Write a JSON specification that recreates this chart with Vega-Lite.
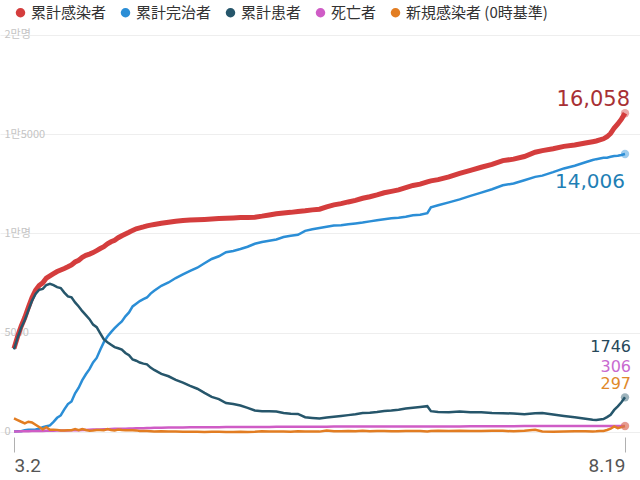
{
  "$schema": "https://vega.github.io/schema/vega-lite/v6.json",
  "width": 640,
  "height": 437,
  "padding": {"left": 0, "top": 0, "right": 0, "bottom": 43},
  "autosize": {"type": "none"},
  "background": "white",
  "config": {"view": {"stroke": null}},
  "data": {"values": [
    {"date":"2020-03-02","c":4212,"r":30,"i":4160,"x":22,"n":686},
    {"date":"2020-03-03","c":4812,"r":34,"i":4750,"x":28,"n":600},
    {"date":"2020-03-04","c":5328,"r":41,"i":5255,"x":32,"n":516},
    {"date":"2020-03-05","c":5766,"r":88,"i":5643,"x":35,"n":438},
    {"date":"2020-03-06","c":6284,"r":108,"i":6134,"x":42,"n":518},
    {"date":"2020-03-07","c":6767,"r":118,"i":6605,"x":44,"n":483},
    {"date":"2020-03-08","c":7134,"r":130,"i":6954,"x":50,"n":367},
    {"date":"2020-03-09","c":7382,"r":166,"i":7165,"x":51,"n":248},
    {"date":"2020-03-10","c":7513,"r":247,"i":7212,"x":54,"n":131},
    {"date":"2020-03-11","c":7755,"r":288,"i":7407,"x":60,"n":242},
    {"date":"2020-03-12","c":7869,"r":333,"i":7470,"x":66,"n":114},
    {"date":"2020-03-13","c":7979,"r":510,"i":7402,"x":67,"n":110},
    {"date":"2020-03-14","c":8086,"r":714,"i":7300,"x":72,"n":107},
    {"date":"2020-03-15","c":8162,"r":834,"i":7253,"x":75,"n":76},
    {"date":"2020-03-16","c":8236,"r":1137,"i":7024,"x":75,"n":74},
    {"date":"2020-03-17","c":8320,"r":1407,"i":6832,"x":81,"n":84},
    {"date":"2020-03-18","c":8413,"r":1540,"i":6789,"x":84,"n":93},
    {"date":"2020-03-19","c":8565,"r":1947,"i":6527,"x":91,"n":152},
    {"date":"2020-03-20","c":8652,"r":2233,"i":6325,"x":94,"n":87},
    {"date":"2020-03-21","c":8799,"r":2612,"i":6085,"x":102,"n":147},
    {"date":"2020-03-22","c":8897,"r":2909,"i":5884,"x":104,"n":98},
    {"date":"2020-03-23","c":8961,"r":3166,"i":5684,"x":111,"n":64},
    {"date":"2020-03-24","c":9037,"r":3507,"i":5410,"x":120,"n":76},
    {"date":"2020-03-25","c":9137,"r":3730,"i":5281,"x":126,"n":100},
    {"date":"2020-03-26","c":9241,"r":4144,"i":4966,"x":131,"n":104},
    {"date":"2020-03-27","c":9332,"r":4528,"i":4665,"x":139,"n":91},
    {"date":"2020-03-28","c":9478,"r":4811,"i":4523,"x":144,"n":146},
    {"date":"2020-03-29","c":9583,"r":5033,"i":4398,"x":152,"n":105},
    {"date":"2020-03-30","c":9661,"r":5228,"i":4275,"x":158,"n":78},
    {"date":"2020-03-31","c":9786,"r":5408,"i":4216,"x":162,"n":125},
    {"date":"2020-04-01","c":9887,"r":5567,"i":4155,"x":165,"n":101},
    {"date":"2020-04-02","c":9976,"r":5828,"i":3979,"x":169,"n":89},
    {"date":"2020-04-03","c":10062,"r":6021,"i":3867,"x":174,"n":86},
    {"date":"2020-04-04","c":10156,"r":6325,"i":3654,"x":177,"n":94},
    {"date":"2020-04-05","c":10237,"r":6463,"i":3591,"x":183,"n":81},
    {"date":"2020-04-06","c":10284,"r":6598,"i":3500,"x":186,"n":47},
    {"date":"2020-04-07","c":10331,"r":6694,"i":3445,"x":192,"n":47},
    {"date":"2020-04-08","c":10384,"r":6776,"i":3408,"x":200,"n":53},
    {"date":"2020-04-09","c":10423,"r":6973,"i":3246,"x":204,"n":39},
    {"date":"2020-04-10","c":10450,"r":7117,"i":3125,"x":208,"n":27},
    {"date":"2020-04-12","c":10512,"r":7368,"i":2930,"x":214,"n":32},
    {"date":"2020-04-14","c":10564,"r":7534,"i":2808,"x":222,"n":27},
    {"date":"2020-04-16","c":10613,"r":7757,"i":2627,"x":229,"n":22},
    {"date":"2020-04-18","c":10653,"r":7937,"i":2484,"x":232,"n":18},
    {"date":"2020-04-20","c":10674,"r":8114,"i":2324,"x":236,"n":13},
    {"date":"2020-04-22","c":10694,"r":8277,"i":2179,"x":238,"n":11},
    {"date":"2020-04-24","c":10708,"r":8501,"i":1967,"x":240,"n":6},
    {"date":"2020-04-26","c":10728,"r":8717,"i":1769,"x":242,"n":10},
    {"date":"2020-04-28","c":10752,"r":8854,"i":1654,"x":244,"n":14},
    {"date":"2020-04-30","c":10765,"r":9059,"i":1459,"x":247,"n":4},
    {"date":"2020-05-02","c":10780,"r":9123,"i":1407,"x":250,"n":6},
    {"date":"2020-05-04","c":10801,"r":9217,"i":1332,"x":252,"n":8},
    {"date":"2020-05-06","c":10806,"r":9333,"i":1218,"x":255,"n":2},
    {"date":"2020-05-08","c":10822,"r":9484,"i":1082,"x":256,"n":12},
    {"date":"2020-05-10","c":10874,"r":9568,"i":1050,"x":256,"n":34},
    {"date":"2020-05-12","c":10936,"r":9632,"i":1046,"x":258,"n":27},
    {"date":"2020-05-14","c":10991,"r":9695,"i":1036,"x":260,"n":29},
    {"date":"2020-05-16","c":11037,"r":9821,"i":954,"x":262,"n":19},
    {"date":"2020-05-18","c":11065,"r":9888,"i":914,"x":263,"n":15},
    {"date":"2020-05-20","c":11110,"r":9938,"i":909,"x":263,"n":32},
    {"date":"2020-05-22","c":11142,"r":10135,"i":743,"x":264,"n":20},
    {"date":"2020-05-24","c":11190,"r":10213,"i":711,"x":266,"n":25},
    {"date":"2020-05-26","c":11225,"r":10275,"i":681,"x":269,"n":19},
    {"date":"2020-05-28","c":11344,"r":10340,"i":734,"x":270,"n":79},
    {"date":"2020-05-30","c":11441,"r":10398,"i":771,"x":272,"n":39},
    {"date":"2020-06-01","c":11503,"r":10421,"i":810,"x":272,"n":35},
    {"date":"2020-06-03","c":11590,"r":10467,"i":850,"x":273,"n":49},
    {"date":"2020-06-05","c":11668,"r":10506,"i":889,"x":273,"n":39},
    {"date":"2020-06-07","c":11776,"r":10552,"i":951,"x":273,"n":57},
    {"date":"2020-06-09","c":11852,"r":10611,"i":965,"x":276,"n":38},
    {"date":"2020-06-11","c":11947,"r":10669,"i":1002,"x":276,"n":45},
    {"date":"2020-06-13","c":12051,"r":10718,"i":1056,"x":277,"n":49},
    {"date":"2020-06-15","c":12121,"r":10764,"i":1080,"x":277,"n":37},
    {"date":"2020-06-17","c":12198,"r":10797,"i":1122,"x":279,"n":43},
    {"date":"2020-06-19","c":12306,"r":10846,"i":1180,"x":280,"n":49},
    {"date":"2020-06-21","c":12421,"r":10914,"i":1227,"x":280,"n":48},
    {"date":"2020-06-23","c":12484,"r":10943,"i":1260,"x":281,"n":46},
    {"date":"2020-06-25","c":12602,"r":11020,"i":1300,"x":282,"n":28},
    {"date":"2020-06-26","c":12653,"r":11321,"i":1050,"x":282,"n":51},
    {"date":"2020-06-28","c":12715,"r":11423,"i":1010,"x":282,"n":62},
    {"date":"2020-07-01","c":12850,"r":11568,"i":1000,"x":282,"n":51},
    {"date":"2020-07-04","c":13030,"r":11717,"i":1030,"x":283,"n":63},
    {"date":"2020-07-07","c":13181,"r":11896,"i":1000,"x":285,"n":44},
    {"date":"2020-07-10","c":13338,"r":12060,"i":990,"x":288,"n":45},
    {"date":"2020-07-13","c":13479,"r":12230,"i":960,"x":289,"n":62},
    {"date":"2020-07-16","c":13672,"r":12429,"i":950,"x":293,"n":61},
    {"date":"2020-07-19","c":13745,"r":12520,"i":930,"x":295,"n":34},
    {"date":"2020-07-22","c":13879,"r":12683,"i":900,"x":296,"n":63},
    {"date":"2020-07-25","c":14092,"r":12854,"i":940,"x":298,"n":113},
    {"date":"2020-07-27","c":14175,"r":12916,"i":960,"x":299,"n":25},
    {"date":"2020-07-30","c":14269,"r":13089,"i":880,"x":300,"n":18},
    {"date":"2020-08-02","c":14389,"r":13278,"i":810,"x":301,"n":23},
    {"date":"2020-08-05","c":14456,"r":13414,"i":740,"x":302,"n":33},
    {"date":"2020-08-08","c":14562,"r":13589,"i":670,"x":303,"n":43},
    {"date":"2020-08-10","c":14626,"r":13702,"i":620,"x":304,"n":28},
    {"date":"2020-08-11","c":14660,"r":13745,"i":610,"x":305,"n":34},
    {"date":"2020-08-12","c":14714,"r":13779,"i":630,"x":305,"n":54},
    {"date":"2020-08-13","c":14770,"r":13815,"i":650,"x":305,"n":56},
    {"date":"2020-08-14","c":14873,"r":13817,"i":751,"x":305,"n":103},
    {"date":"2020-08-15","c":15039,"r":13863,"i":871,"x":305,"n":166},
    {"date":"2020-08-16","c":15318,"r":13901,"i":1112,"x":305,"n":279},
    {"date":"2020-08-17","c":15515,"r":13917,"i":1293,"x":305,"n":197},
    {"date":"2020-08-18","c":15761,"r":13954,"i":1501,"x":306,"n":246},
    {"date":"2020-08-19","c":16058,"r":14006,"i":1746,"x":306,"n":297}
  ]},
  "transform": [{"fold": ["c", "r", "i", "x", "n"], "as": ["s", "v"]}],
  "encoding": {
    "x": {
      "field": "date", "type": "temporal",
      "scale": {"type": "utc", "domain": [
        {"year": 2020, "month": 2, "date": 27, "hours": 2, "minutes": 30, "utc": true},
        {"year": 2020, "month": 8, "date": 23, "hours": 4, "minutes": 10, "utc": true}
      ]},
      "axis": {
        "title": null,
        "values": [
          {"year": 2020, "month": 3, "date": 2, "utc": true},
          {"year": 2020, "month": 8, "date": 19, "utc": true}
        ],
        "labelExpr": "utcFormat(datum.value, '%-m.%-d')",
        "domain": false, "grid": false, "labelFlush": 20, "labelOverlap": false,
        "ticks": true, "tickColor": "#b0b0b0", "tickSize": 15, "tickWidth": 1,
        "labelPadding": 4, "labelFontSize": 19, "labelFont": "Roboto",
        "labelColor": "#555555", "labelBaseline": "top"
      }
    },
    "y": {
      "field": "v", "type": "quantitative",
      "scale": {"domain": [-252, 21763], "nice": false, "zero": false},
      "axis": {
        "title": null,
        "values": [0, 5000, 10000, 15000, 20000],
        "labelExpr": "datum.value == 20000 ? '2만명' : datum.value == 15000 ? '1만5000' : datum.value == 10000 ? '1만명' : datum.value == 5000 ? '5000' : '0'",
        "domain": false, "ticks": false, "tickSize": 0,
        "labelAlign": "left", "labelPadding": -4, "labelBaseline": "middle",
        "labelFont": "Noto Sans CJK KR", "labelFontSize": 11, "labelColor": "#c4c4c4",
        "grid": true, "gridColor": "#eeeeee", "gridWidth": 1
      }
    },
    "color": {
      "field": "s", "type": "nominal",
      "scale": {"domain": ["c", "r", "i", "x", "n"], "range": ["#d43d3d", "#2b8ed6", "#26566b", "#cf5cc6", "#e27d22"]},
      "legend": {
        "title": null, "orient": "none", "legendX": 13, "legendY": 5,
        "direction": "horizontal", "symbolType": "circle", "symbolSize": 90,
        "symbolStrokeWidth": 0, "symbolOpacity": 1,
        "labelFont": "Noto Sans CJK JP", "labelFontSize": 15, "labelColor": "#333333",
        "labelOffset": 3, "columnPadding": 11,
        "labelExpr": "datum.label == 'c' ? '累計感染者' : datum.label == 'r' ? '累計完治者' : datum.label == 'i' ? '累計患者' : datum.label == 'x' ? '死亡者' : '新規感染者 (0時基準)'"
      }
    }
  },
  "layer": [
    {"transform": [{"filter": "datum.s == 'c'"}], "mark": {"type": "line", "strokeWidth": 5}},
    {"transform": [{"filter": "datum.s != 'c'"}], "mark": {"type": "line", "strokeWidth": 2.5}},
    {"transform": [{"filter": "time(datum.date) == time('2020-08-19')"}], "mark": {"type": "point", "filled": true, "size": 70, "opacity": 0.45}},
    {"transform": [{"filter": "time(datum.date) == time('2020-08-19') && datum.s == 'c'"}],
     "mark": {"type": "text", "align": "right", "baseline": "middle", "dx": 5, "dy": -13, "fontSize": 21, "font": "DejaVu Sans"},
     "encoding": {"text": {"field": "v", "type": "quantitative", "format": ",d"}, "color": {"value": "#a83034"}}},
    {"transform": [{"filter": "time(datum.date) == time('2020-08-19') && datum.s == 'r'"}],
     "mark": {"type": "text", "align": "right", "baseline": "middle", "dx": 0, "dy": 28, "fontSize": 20, "font": "DejaVu Sans"},
     "encoding": {"text": {"field": "v", "type": "quantitative", "format": ",d"}, "color": {"value": "#1f7fb5"}}},
    {"transform": [{"filter": "time(datum.date) == time('2020-08-19') && datum.s == 'i'"}],
     "mark": {"type": "text", "align": "right", "baseline": "middle", "dx": 6, "dy": -50, "fontSize": 16, "font": "DejaVu Sans"},
     "encoding": {"text": {"field": "v", "type": "quantitative", "format": "d"}, "color": {"value": "#27485a"}}},
    {"transform": [{"filter": "time(datum.date) == time('2020-08-19') && datum.s == 'x'"}],
     "mark": {"type": "text", "align": "right", "baseline": "middle", "dx": 6, "dy": -59, "fontSize": 16, "font": "DejaVu Sans"},
     "encoding": {"text": {"field": "v", "type": "quantitative", "format": "d"}, "color": {"value": "#c86ad0"}}},
    {"transform": [{"filter": "time(datum.date) == time('2020-08-19') && datum.s == 'n'"}],
     "mark": {"type": "text", "align": "right", "baseline": "middle", "dx": 6, "dy": -42, "fontSize": 16, "font": "DejaVu Sans"},
     "encoding": {"text": {"field": "v", "type": "quantitative", "format": "d"}, "color": {"value": "#e0892a"}}}
  ]
}
